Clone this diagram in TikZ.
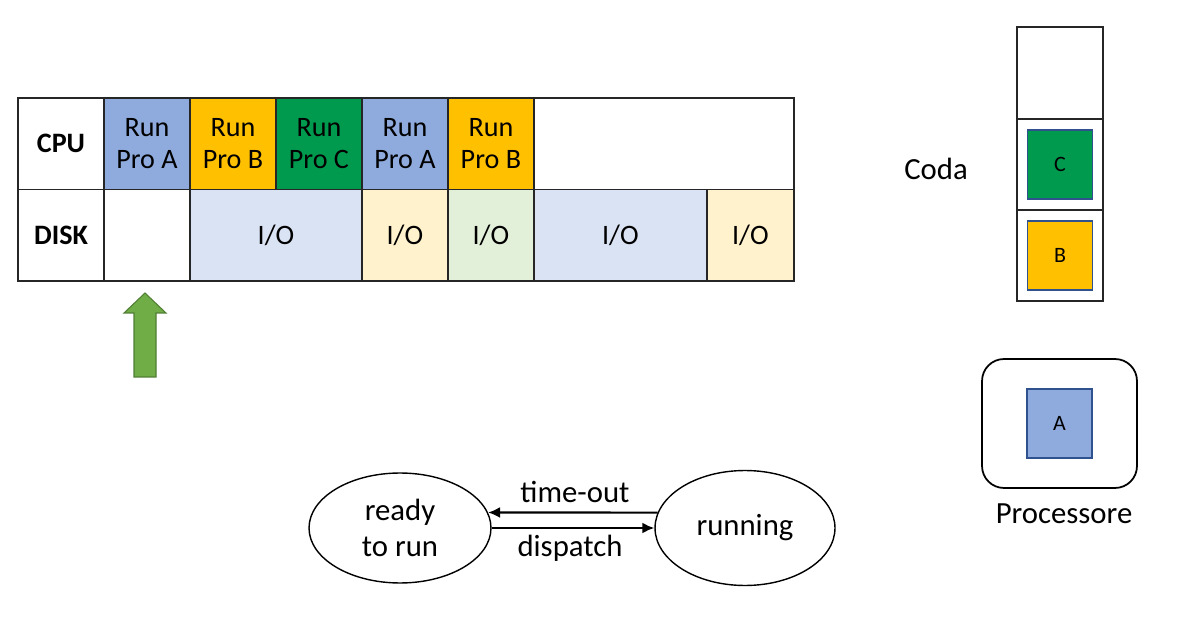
\documentclass[tikz,border=0pt]{standalone}
\usepackage{fontspec}
\setmainfont{Carlito}
\usepackage{xcolor}
\usetikzlibrary{arrows.meta,positioning,shapes.geometric}
\definecolor{proA}{HTML}{8FAADC}
\definecolor{proB}{HTML}{FFC000}
\definecolor{proC}{HTML}{009A4E}
\definecolor{ioA}{HTML}{DAE3F3}
\definecolor{ioB}{HTML}{FFF2CC}
\definecolor{ioC}{HTML}{E2F0D9}
\definecolor{sqborder}{HTML}{2F528F}
\definecolor{upgreen}{HTML}{70AD47}
\definecolor{upborder}{HTML}{507E32}
\tikzset{
  cellbox/.style={rectangle,draw=black!85,line width=1pt,outer sep=0pt,inner sep=0pt,minimum width=1.72cm,minimum height=1.83cm,align=center,font=\fontsize{16}{18.5}\selectfont},
  headbox/.style={cellbox,font=\bfseries\fontsize{16}{18.5}\selectfont},
  slotbox/.style={cellbox,minimum height=1.82cm},
  procsq/.style={rectangle,draw=sqborder,line width=0.8pt,minimum width=1.3cm,minimum height=1.38cm,inner sep=0pt,font=\fontsize{12.5}{14}\selectfont},
  statebox/.style={ellipse,draw=black,line width=0.8pt,align=center,inner sep=0pt,font=\fontsize{17.5}{20.5}\selectfont},
  biglabel/.style={font=\fontsize{17.5}{20.5}\selectfont},
  arrow/.style={-{Latex[length=2.4mm,width=2.2mm]},line width=1.2pt,draw=black}
}
\begin{document}
\begin{tikzpicture}[x=0.02cm,y=-0.02cm]
  \useasboundingbox (0,0) rectangle (1192,617);
  % time line
  \node[headbox,anchor=north west] (cpu) at (18,98) {CPU};
  \node[cellbox,fill=proA,right=0pt of cpu] (runA1) {Run\\Pro A};
  \node[cellbox,fill=proB,right=0pt of runA1] (runB1) {Run\\Pro B};
  \node[cellbox,fill=proC,right=0pt of runB1] (runC1) {Run\\Pro C};
  \node[cellbox,fill=proA,right=0pt of runC1] (runA2) {Run\\Pro A};
  \node[cellbox,fill=proB,right=0pt of runA2] (runB2) {Run\\Pro B};
  \node[cellbox,minimum width=5.2cm,right=0pt of runB2] (cpuidle) {};
  \node[headbox,below=0pt of cpu] (disk) {DISK};
  \node[cellbox,right=0pt of disk] (diskidle) {};
  \node[cellbox,fill=ioA,minimum width=3.44cm,right=0pt of diskidle] (ioA1) {I/O};
  \node[cellbox,fill=ioB,right=0pt of ioA1] (ioB1) {I/O};
  \node[cellbox,fill=ioC,right=0pt of ioB1] (ioC1) {I/O};
  \node[cellbox,fill=ioA,minimum width=3.46cm,right=0pt of ioC1] (ioA2) {I/O};
  \node[cellbox,fill=ioB,minimum width=1.74cm,right=0pt of ioA2] (ioB2) {I/O};

  % pointer
  \draw[fill=upgreen,draw=upborder,line width=0.6pt]
    (134,377) -- (134,313) -- (124,313) -- (145,293) -- (166,313) -- (156,313) -- (156,377) -- cycle;

  % queue
  \node[slotbox,anchor=north west,minimum height=1.84cm] (slot1) at (1017,27) {};
  \node[slotbox,below=0pt of slot1] (slot2) {};
  \node[slotbox,below=0pt of slot2] (slot3) {};
  \node[procsq,fill=proC] (qC) at (slot2.center) {C};
  \node[procsq,fill=proB] (qB) at (slot3.center) {B};
  \node[biglabel] (coda) at (936,169) {Coda};

  % processor
  \node[rectangle,rounded corners=0.44cm,draw=black,line width=1pt,minimum width=3.1cm,minimum height=2.58cm] (cpuunit) at (1059.5,423.5) {};
  \node[procsq,fill=proA] (pA) at (cpuunit.center) {A};
  \node[biglabel] (proclabel) at (1064,514) {Processore};

  % states
  \node[statebox,minimum width=3.64cm,minimum height=2.2cm] (ready) at (400,528) {ready\\to run};
  \node[statebox,minimum width=3.6cm,minimum height=2.3cm] (running) at (745,528) {running};
  \draw[arrow] (running.170) -- (ready.10);
  \draw[arrow] (ready.east) -- (running.west);
  \node[biglabel] (timeout) at (575,492) {time-out};
  \node[biglabel] (dispatch) at (570,548) {dispatch};
\end{tikzpicture}
\end{document}
